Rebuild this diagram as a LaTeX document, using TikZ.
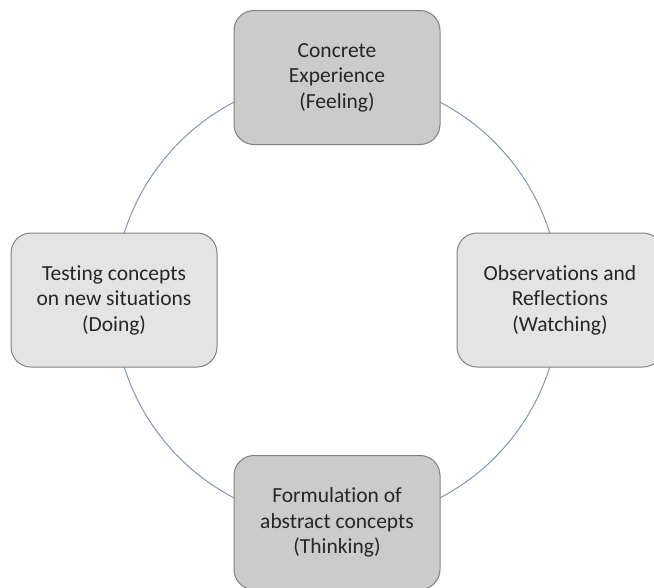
\documentclass[tikz,border=0pt]{standalone}
\usepackage{fontspec}
\setmainfont[Ligatures=NoCommon]{Carlito}
\usepackage{xcolor}
\usepackage{tikz}
\usetikzlibrary{calc}
\definecolor{cdark}{HTML}{CBCBCB}
\definecolor{clight}{HTML}{E4E4E4}
\definecolor{cedge}{HTML}{808080}
\definecolor{cring}{HTML}{8496B0}
\definecolor{ctext}{HTML}{262626}

\begin{document}
\begin{tikzpicture}[x=1pt,y=1pt,
    cyclebox/.style={draw=cedge,line width=1pt,rounded corners=20pt,
      minimum width=206pt,minimum height=134pt,align=center,
      text=ctext,font=\fontsize{21.5}{25.5}\selectfont}]
  \useasboundingbox (0,0) rectangle (654,-587);
  \clip (0,0) rectangle (654,-587);
  \coordinate (hub) at (337,-300);
  \draw[cring,line width=1pt] (hub) circle (223);
  \node[cyclebox,fill=cdark] (feel) at ($(hub)+(90:222.5)$)
    {Concrete\\Experience\\(Feeling)};
  \node[cyclebox,fill=clight] (watch) at ($(hub)+(0:223)$)
    {Observations and\\Reflections\\(Watching)};
  \node[cyclebox,fill=cdark] (think) at ($(hub)+(270:222.5)$)
    {Formulation of\\abstract concepts\\(Thinking)};
  \node[cyclebox,fill=clight] (do) at ($(hub)+(180:223)$)
    {Testing concepts\\on new situations\\(Doing)};
\end{tikzpicture}
\end{document}
